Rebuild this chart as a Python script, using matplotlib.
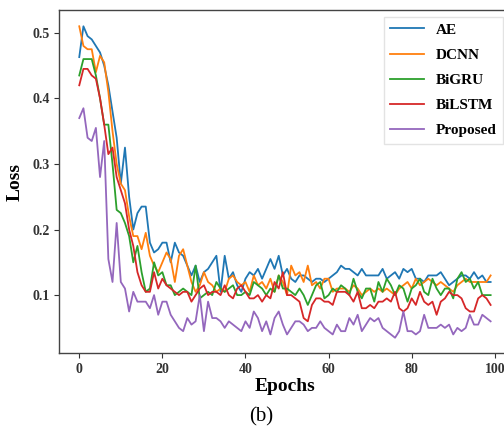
import matplotlib.pyplot as plt

epochs = list(range(100))

ae = [0.463, 0.51, 0.495, 0.49, 0.48, 0.47, 0.45, 0.42, 0.38, 0.34,
      0.27, 0.325, 0.25, 0.20, 0.225, 0.235, 0.235, 0.18, 0.165, 0.17,
      0.18, 0.18, 0.15, 0.18, 0.165, 0.16, 0.145, 0.13, 0.145, 0.12,
      0.135, 0.14, 0.15, 0.16, 0.105, 0.16, 0.125, 0.135, 0.115, 0.105,
      0.125, 0.135, 0.13, 0.14, 0.125, 0.14, 0.155, 0.14, 0.16, 0.13,
      0.14, 0.125, 0.12, 0.13, 0.13, 0.125, 0.12, 0.125, 0.125, 0.12,
      0.125, 0.13, 0.135, 0.145, 0.14, 0.14, 0.135, 0.13, 0.14, 0.13,
      0.13, 0.13, 0.13, 0.14, 0.125, 0.13, 0.135, 0.125, 0.14, 0.135,
      0.14, 0.125, 0.125, 0.12, 0.13, 0.13, 0.13, 0.135, 0.125, 0.115,
      0.12, 0.125, 0.13, 0.13, 0.125, 0.135, 0.125, 0.13, 0.12, 0.12]

dcnn = [0.51, 0.48, 0.475, 0.475, 0.44, 0.465, 0.455, 0.41, 0.35, 0.30,
        0.27, 0.26, 0.22, 0.19, 0.19, 0.17, 0.195, 0.16, 0.145, 0.135,
        0.15, 0.165, 0.155, 0.12, 0.16, 0.17, 0.145, 0.12, 0.105, 0.115,
        0.135, 0.12, 0.115, 0.105, 0.11, 0.105, 0.125, 0.13, 0.12, 0.115,
        0.12, 0.105, 0.13, 0.115, 0.12, 0.11, 0.125, 0.105, 0.13, 0.12,
        0.10, 0.145, 0.13, 0.135, 0.12, 0.145, 0.115, 0.12, 0.11, 0.125,
        0.125, 0.105, 0.11, 0.11, 0.11, 0.105, 0.115, 0.11, 0.10, 0.105,
        0.11, 0.105, 0.11, 0.105, 0.11, 0.105, 0.10, 0.11, 0.115, 0.12,
        0.11, 0.125, 0.115, 0.12, 0.125, 0.12, 0.115, 0.12, 0.115, 0.11,
        0.105, 0.115, 0.12, 0.125, 0.12, 0.12, 0.12, 0.12, 0.12, 0.13]

bigru = [0.435, 0.46, 0.46, 0.46, 0.435, 0.40, 0.36, 0.36, 0.30, 0.23,
         0.225, 0.21, 0.19, 0.15, 0.175, 0.135, 0.105, 0.11, 0.15, 0.13,
         0.135, 0.115, 0.115, 0.10, 0.105, 0.11, 0.105, 0.10, 0.145, 0.095,
         0.10, 0.105, 0.10, 0.12, 0.11, 0.105, 0.11, 0.115, 0.10, 0.10,
         0.105, 0.10, 0.12, 0.115, 0.11, 0.10, 0.11, 0.105, 0.13, 0.11,
         0.11, 0.105, 0.10, 0.11, 0.10, 0.085, 0.10, 0.115, 0.12, 0.095,
         0.10, 0.11, 0.105, 0.115, 0.11, 0.10, 0.125, 0.105, 0.095, 0.11,
         0.11, 0.09, 0.12, 0.105, 0.125, 0.115, 0.10, 0.115, 0.11, 0.09,
         0.11, 0.115, 0.125, 0.105, 0.10, 0.125, 0.11, 0.10, 0.11, 0.11,
         0.095, 0.125, 0.135, 0.12, 0.125, 0.11, 0.12, 0.10, 0.10, 0.10]

bilstm = [0.42, 0.445, 0.445, 0.435, 0.43, 0.40, 0.36, 0.315, 0.325, 0.28,
          0.26, 0.24, 0.20, 0.175, 0.135, 0.115, 0.105, 0.105, 0.135, 0.11,
          0.125, 0.115, 0.11, 0.105, 0.10, 0.105, 0.105, 0.09, 0.10, 0.11,
          0.115, 0.10, 0.105, 0.105, 0.10, 0.115, 0.10, 0.095, 0.11, 0.115,
          0.105, 0.095, 0.095, 0.10, 0.09, 0.10, 0.095, 0.12, 0.11, 0.135,
          0.10, 0.10, 0.095, 0.09, 0.065, 0.06, 0.085, 0.095, 0.095, 0.09,
          0.09, 0.085, 0.105, 0.105, 0.105, 0.10, 0.09, 0.105, 0.08, 0.08,
          0.085, 0.08, 0.09, 0.09, 0.095, 0.09, 0.105, 0.08, 0.075, 0.08,
          0.095, 0.085, 0.105, 0.09, 0.085, 0.09, 0.07, 0.09, 0.095, 0.105,
          0.10, 0.10, 0.095, 0.08, 0.075, 0.075, 0.095, 0.10, 0.095, 0.085]

proposed = [0.37, 0.385, 0.34, 0.335, 0.355, 0.28, 0.335, 0.155, 0.12, 0.21,
            0.12, 0.11, 0.075, 0.105, 0.09, 0.09, 0.09, 0.08, 0.10, 0.07,
            0.09, 0.09, 0.07, 0.06, 0.05, 0.045, 0.065, 0.055, 0.06, 0.10,
            0.045, 0.09, 0.065, 0.065, 0.06, 0.05, 0.06, 0.055, 0.05, 0.045,
            0.06, 0.05, 0.075, 0.065, 0.045, 0.06, 0.04, 0.065, 0.075, 0.055,
            0.04, 0.05, 0.06, 0.06, 0.055, 0.045, 0.05, 0.05, 0.06, 0.05,
            0.045, 0.04, 0.055, 0.045, 0.045, 0.065, 0.055, 0.07, 0.045, 0.055,
            0.065, 0.06, 0.065, 0.05, 0.045, 0.04, 0.035, 0.045, 0.075, 0.045,
            0.045, 0.04, 0.045, 0.07, 0.05, 0.05, 0.05, 0.055, 0.05, 0.055,
            0.04, 0.05, 0.045, 0.05, 0.07, 0.055, 0.055, 0.07, 0.065, 0.06]

series = [("AE", ae), ("DCNN", dcnn), ("BiGRU", bigru),
          ("BiLSTM", bilstm), ("Proposed", proposed)]

plt.rcParams['font.family'] = ['Liberation Serif', 'DejaVu Serif']

fig = plt.figure(figsize=(5.04, 4.30), dpi=100)
# the original image is cropped on the right, so the axes run past the edge
ax = fig.add_axes([0.1177, 0.178, 0.897, 0.799])

for name, vals in series:
    ax.plot(epochs, vals, label=name, linewidth=1.3)

ax.set_xlim(-4.8, 104)
ax.set_ylim(0.011, 0.535)
ax.set_xticks([0, 20, 40, 60, 80, 100])
ax.set_yticks([0.1, 0.2, 0.3, 0.4, 0.5])

for s in ax.spines.values():
    s.set_color('#444444')
    s.set_linewidth(1.0)
ax.tick_params(colors='#333333', labelsize=10, length=3.5)
for lbl in ax.get_xticklabels() + ax.get_yticklabels():
    lbl.set_fontweight('bold')

ax.set_xlabel("Epochs", fontsize=14, fontweight='bold', labelpad=1)
ax.set_ylabel("Loss", fontsize=14, fontweight='bold', labelpad=6)

leg = ax.legend(loc='upper right', bbox_to_anchor=(503 / 504, 1 - 17 / 430),
                bbox_transform=fig.transFigure, borderaxespad=0,
                prop={'weight': 'bold', 'size': 11}, fancybox=False,
                handlelength=2.2, labelspacing=0.75)
leg.get_frame().set_edgecolor('#dddddd')

fig.text(261 / 504, 1 - 417 / 430, "(b)", ha='center', va='center', fontsize=15)

plt.savefig("out.png", dpi=100)
